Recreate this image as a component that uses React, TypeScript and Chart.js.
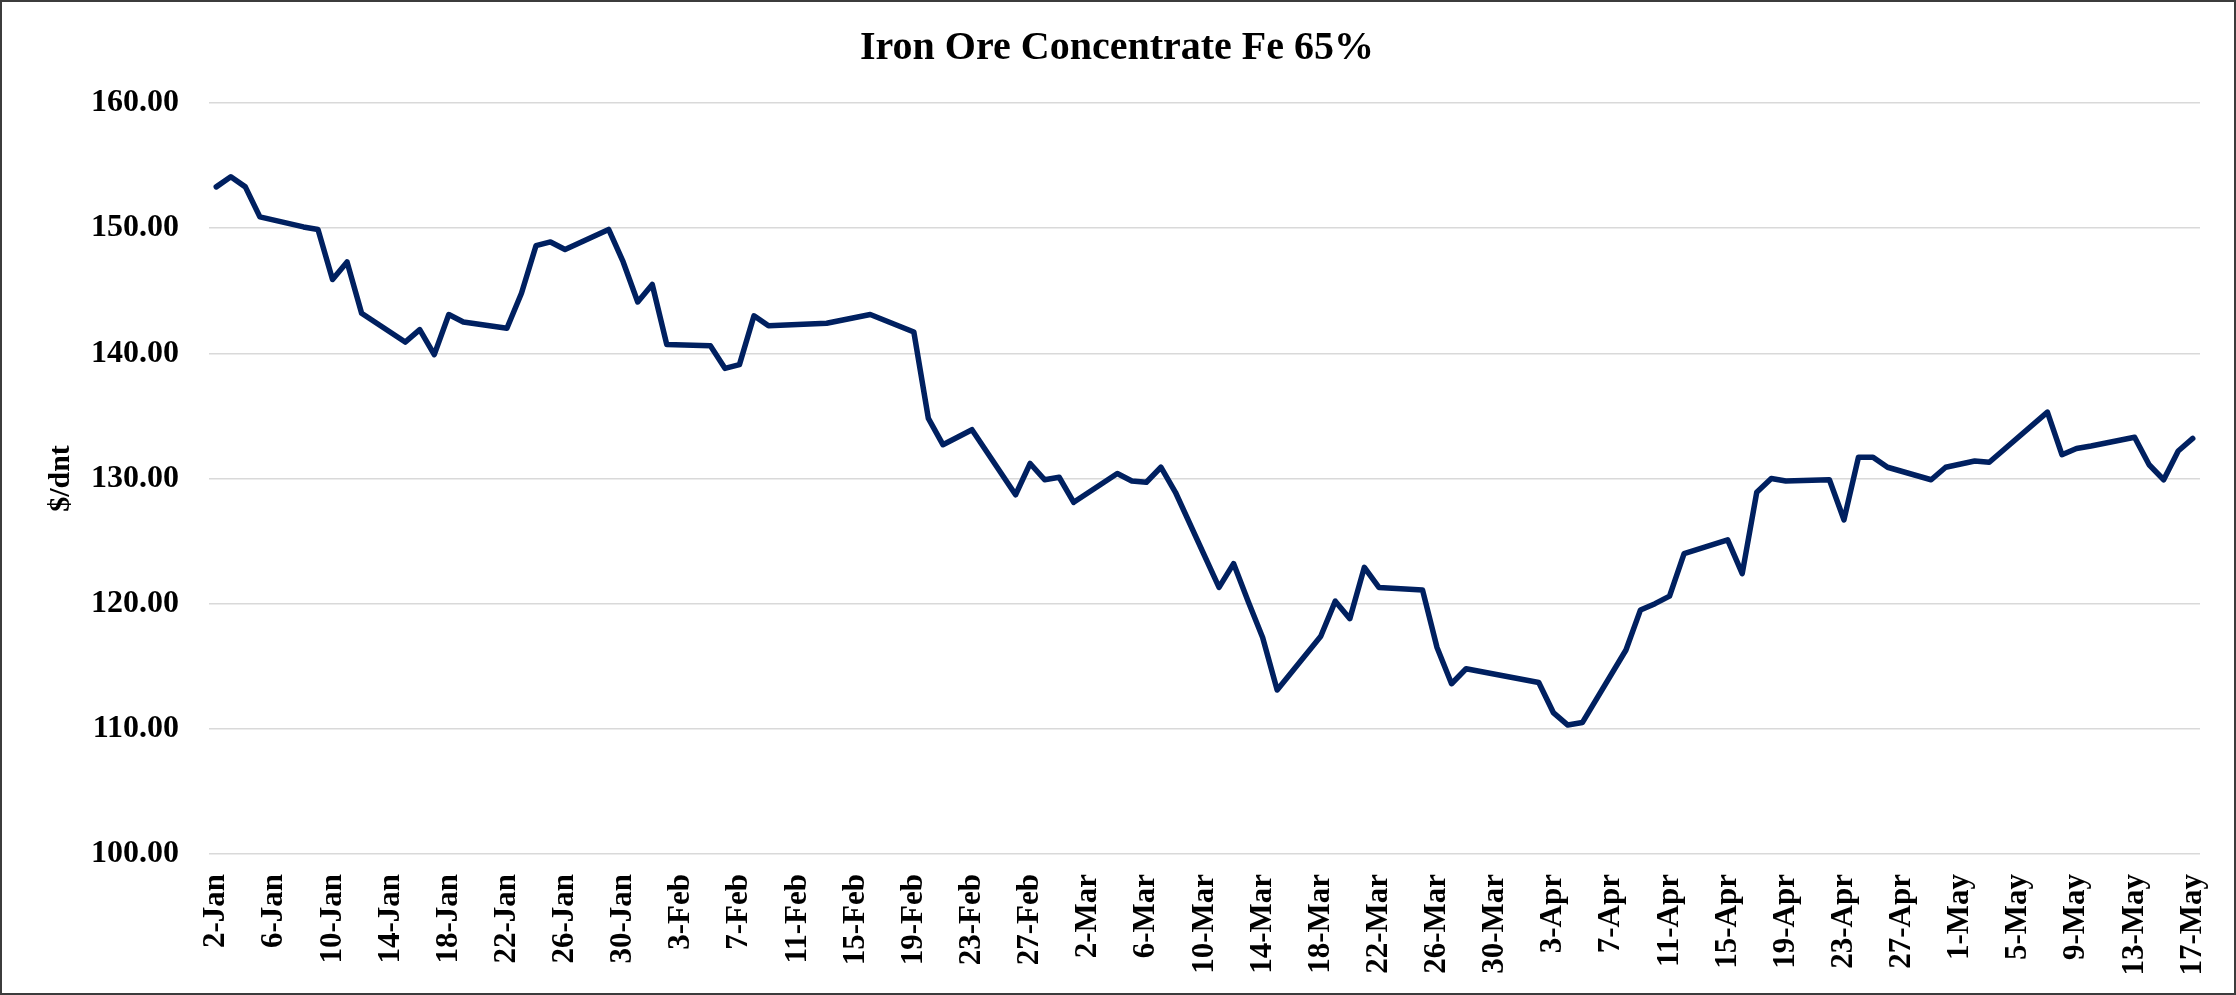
import React, { useEffect, useRef } from "react";
import { Chart, registerables } from "chart.js";

Chart.register(...registerables);

const TITLE = "Iron Ore Concentrate Fe 65%";
const Y_TITLE = "$/dnt";
const MONTHS = ["Jan", "Feb", "Mar", "Apr", "May", "Jun", "Jul", "Aug", "Sep", "Oct", "Nov", "Dec"];
const FIRST_DAY = [2024, 0, 2];
const LAST_DAY = [2024, 4, 17];
const LABEL_EVERY = 4;

const tradeDates = [
  "2-Jan", "3-Jan", "4-Jan", "5-Jan", "8-Jan", "9-Jan", "10-Jan", "11-Jan", "12-Jan",
  "15-Jan", "16-Jan", "17-Jan", "18-Jan", "19-Jan", "22-Jan", "23-Jan", "24-Jan", "25-Jan",
  "26-Jan", "29-Jan", "30-Jan", "31-Jan", "1-Feb", "2-Feb", "5-Feb", "6-Feb", "7-Feb",
  "8-Feb", "9-Feb", "13-Feb", "16-Feb", "19-Feb", "20-Feb", "21-Feb", "22-Feb", "23-Feb",
  "26-Feb", "27-Feb", "28-Feb", "29-Feb", "1-Mar", "4-Mar", "5-Mar", "6-Mar", "7-Mar",
  "8-Mar", "11-Mar", "12-Mar", "13-Mar", "14-Mar", "15-Mar", "18-Mar", "19-Mar", "20-Mar",
  "21-Mar", "22-Mar", "25-Mar", "26-Mar", "27-Mar", "28-Mar", "2-Apr", "3-Apr", "4-Apr",
  "5-Apr", "8-Apr", "9-Apr", "10-Apr", "11-Apr", "12-Apr", "15-Apr", "16-Apr", "17-Apr",
  "18-Apr", "19-Apr", "22-Apr", "23-Apr", "24-Apr", "25-Apr", "26-Apr", "29-Apr", "30-Apr",
  "2-May", "3-May", "7-May", "8-May", "9-May", "10-May", "13-May", "14-May", "15-May",
  "16-May", "17-May",
];

const prices = [
  153.3, 154.1, 153.3, 150.9, 150.1, 149.9, 145.9, 147.3, 143.2,
  140.9, 141.9, 139.9, 143.1, 142.5, 142.0, 144.8, 148.6, 148.9,
  148.3, 149.9, 147.3, 144.1, 145.5, 140.7, 140.6, 138.8, 139.1,
  143.0, 142.2, 142.4, 143.1, 141.7, 134.8, 132.7, 133.3, 133.9,
  128.7, 131.2, 129.9, 130.1, 128.1, 130.4, 129.8, 129.7, 130.9,
  128.9, 121.3, 123.2, 120.2, 117.3, 113.1, 117.4, 120.2, 118.8,
  122.9, 121.3, 121.1, 116.5, 113.6, 114.8, 113.7, 111.3, 110.3,
  110.5, 116.3, 119.5, 120.0, 120.6, 124.0, 125.1, 122.4, 128.9,
  130.0, 129.8, 129.9, 126.7, 131.7, 131.7, 130.9, 129.9, 130.9,
  131.4, 131.3, 135.3, 131.9, 132.4, 132.6, 133.3, 131.1, 129.9,
  132.2, 133.2,
];

const Y_MIN = 100;
const Y_MAX = 160;
const Y_STEP = 10;

const FONT = "'Liberation Serif', 'Times New Roman', serif";

function buildCalendar(): string[] {
  const out: string[] = [];
  const d = new Date(FIRST_DAY[0], FIRST_DAY[1], FIRST_DAY[2]);
  const end = new Date(LAST_DAY[0], LAST_DAY[1], LAST_DAY[2]);
  while (d <= end) {
    out.push(`${d.getDate()}-${MONTHS[d.getMonth()]}`);
    d.setDate(d.getDate() + 1);
  }
  return out;
}

const framePlugin = {
  id: "frameAndTitle",
  afterDraw(chart: any) {
    const ctx = chart.ctx;
    ctx.save();
    ctx.strokeStyle = "#3c3c3c";
    ctx.lineWidth = 2;
    ctx.strokeRect(1, 1, chart.width - 2, chart.height - 2);
    ctx.fillStyle = "#000";
    ctx.font = `bold 40px ${FONT}`;
    ctx.textAlign = "center";
    ctx.textBaseline = "alphabetic";
    ctx.fillText(TITLE, 1117, 59);
    ctx.restore();
  },
};

export default function App() {
  const canvasRef = useRef<HTMLCanvasElement | null>(null);

  useEffect(() => {
    document.body.style.margin = "0";
    const days = buildCalendar();
    const priceByDate = new Map<string, number>();
    tradeDates.forEach((d, i) => priceByDate.set(d, prices[i]));
    const series = days.map((d) => (priceByDate.has(d) ? (priceByDate.get(d) as number) : null));

    const chart = new Chart(canvasRef.current as HTMLCanvasElement, {
      type: "line",
      data: {
        labels: days,
        datasets: [
          {
            data: series,
            borderColor: "#002060",
            backgroundColor: "#002060",
            borderWidth: 5.5,
            pointRadius: 0,
            pointHoverRadius: 0,
            tension: 0,
            spanGaps: true,
            fill: false,
            borderJoinStyle: "round",
            borderCapStyle: "round",
          },
        ],
      },
      options: {
        animation: false,
        responsive: true,
        maintainAspectRatio: false,
        events: [],
        layout: { padding: { left: 0, top: 103, right: 36, bottom: 0 } },
        plugins: {
          legend: { display: false },
          tooltip: { enabled: false },
          title: { display: false },
        },
        scales: {
          x: {
            type: "category",
            offset: true,
            grid: { display: false, drawTicks: false },
            border: { display: false },
            ticks: {
              autoSkip: false,
              minRotation: 90,
              maxRotation: 90,
              padding: 20,
              color: "#000",
              font: { family: FONT, size: 31, weight: "bold" },
              callback: (_v: any, i: number) => (i % LABEL_EVERY === 0 ? days[i] : ""),
            },
            afterFit: (s: any) => {
              s.height = 141;
              s.paddingLeft = 0;
              s.paddingRight = 0;
            },
          },
          y: {
            min: Y_MIN,
            max: Y_MAX,
            ticks: {
              stepSize: Y_STEP,
              padding: 30,
              color: "#000",
              font: { family: FONT, size: 32, weight: "bold" },
              callback: (v: any) => Number(v).toFixed(2),
            },
            grid: { color: "#d9d9d9", lineWidth: 1.5, drawTicks: false },
            border: { display: false },
            title: {
              display: true,
              text: Y_TITLE,
              color: "#000",
              font: { family: FONT, size: 30, weight: "bold" },
              padding: { top: 43, bottom: 0 },
            },
            afterFit: (s: any) => {
              s.width = 209;
              s.paddingTop = 0;
              s.paddingBottom = 0;
            },
          },
        },
      },
      plugins: [framePlugin],
    });
    return () => chart.destroy();
  }, []);

  return (
    <div style={{ position: "absolute", left: 0, top: 0, width: 2236, height: 995, background: "#fff" }}>
      <canvas ref={canvasRef} />
    </div>
  );
}
